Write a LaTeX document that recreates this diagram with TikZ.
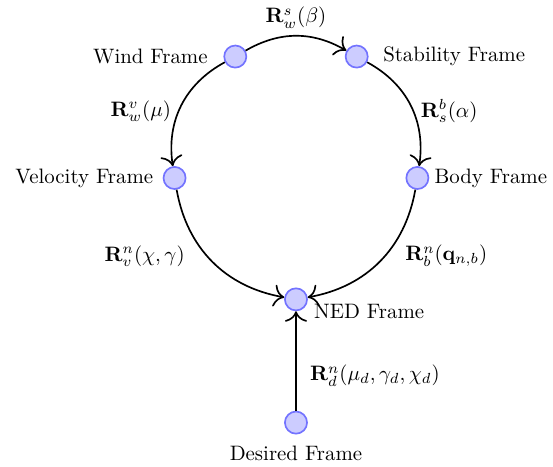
\documentclass[tikz,border=0pt]{standalone}
\usepackage{amsmath,amssymb,bm}
\usetikzlibrary{arrows.meta}

\begin{document}
\begin{tikzpicture}[x=1.022cm,y=1.022cm,
 fr/.style={circle,draw=blue!55,fill=blue!20,line width=0.8pt,minimum size=10.6pt,inner sep=0pt},
 rot/.style={->,thick},
 >={To[scale=1.5]}]
\useasboundingbox (-4.876,-4.745) rectangle (4.234,2.932);
\node[fr,label={[label distance=4pt]left:Wind Frame}] (w) at (-1,2) {};
\node[fr,label={[label distance=3.5pt]right:Stability Frame}] (s) at (1,2) {};
\node[fr,label={[label distance=1pt]left:Velocity Frame}] (v) at (-2,0) {};
\node[fr,label={[label distance=-1pt]right:Body Frame}] (b) at (2,0) {};
\node[fr,label={[label distance=-0.5pt,yshift=-6pt]right:NED Frame}] (n) at (0,-2) {};
\node[fr,label={[label distance=2pt]below:Desired Frame}] (d) at (0,-4.03) {};
\draw[rot] (w) to[bend left=30] node[above] {$\mathbf{R}_w^s(\beta)$} (s);
\draw[rot] (w) to[bend right=35] node[pos=0.55,left] {$\mathbf{R}_w^v(\mu)$} (v);
\draw[rot] (s) to[bend left=35] node[pos=0.55,right] {$\mathbf{R}_s^b(\alpha)$} (b);
\draw[rot] (v) to[bend right=35] node[pos=0.45,left=7pt] {$\mathbf{R}_v^n(\chi,\gamma)$} (n);
\draw[rot] (b) to[bend left=35] node[pos=0.45,right=6pt] {$\mathbf{R}_b^n(\mathbf{q}_{n,b})$} (n);
\draw[rot] (d) -- node[pos=0.35,right=3pt] {$\mathbf{R}_d^n(\mu_d,\gamma_d,\chi_d)$} (n);
\end{tikzpicture}
\end{document}
